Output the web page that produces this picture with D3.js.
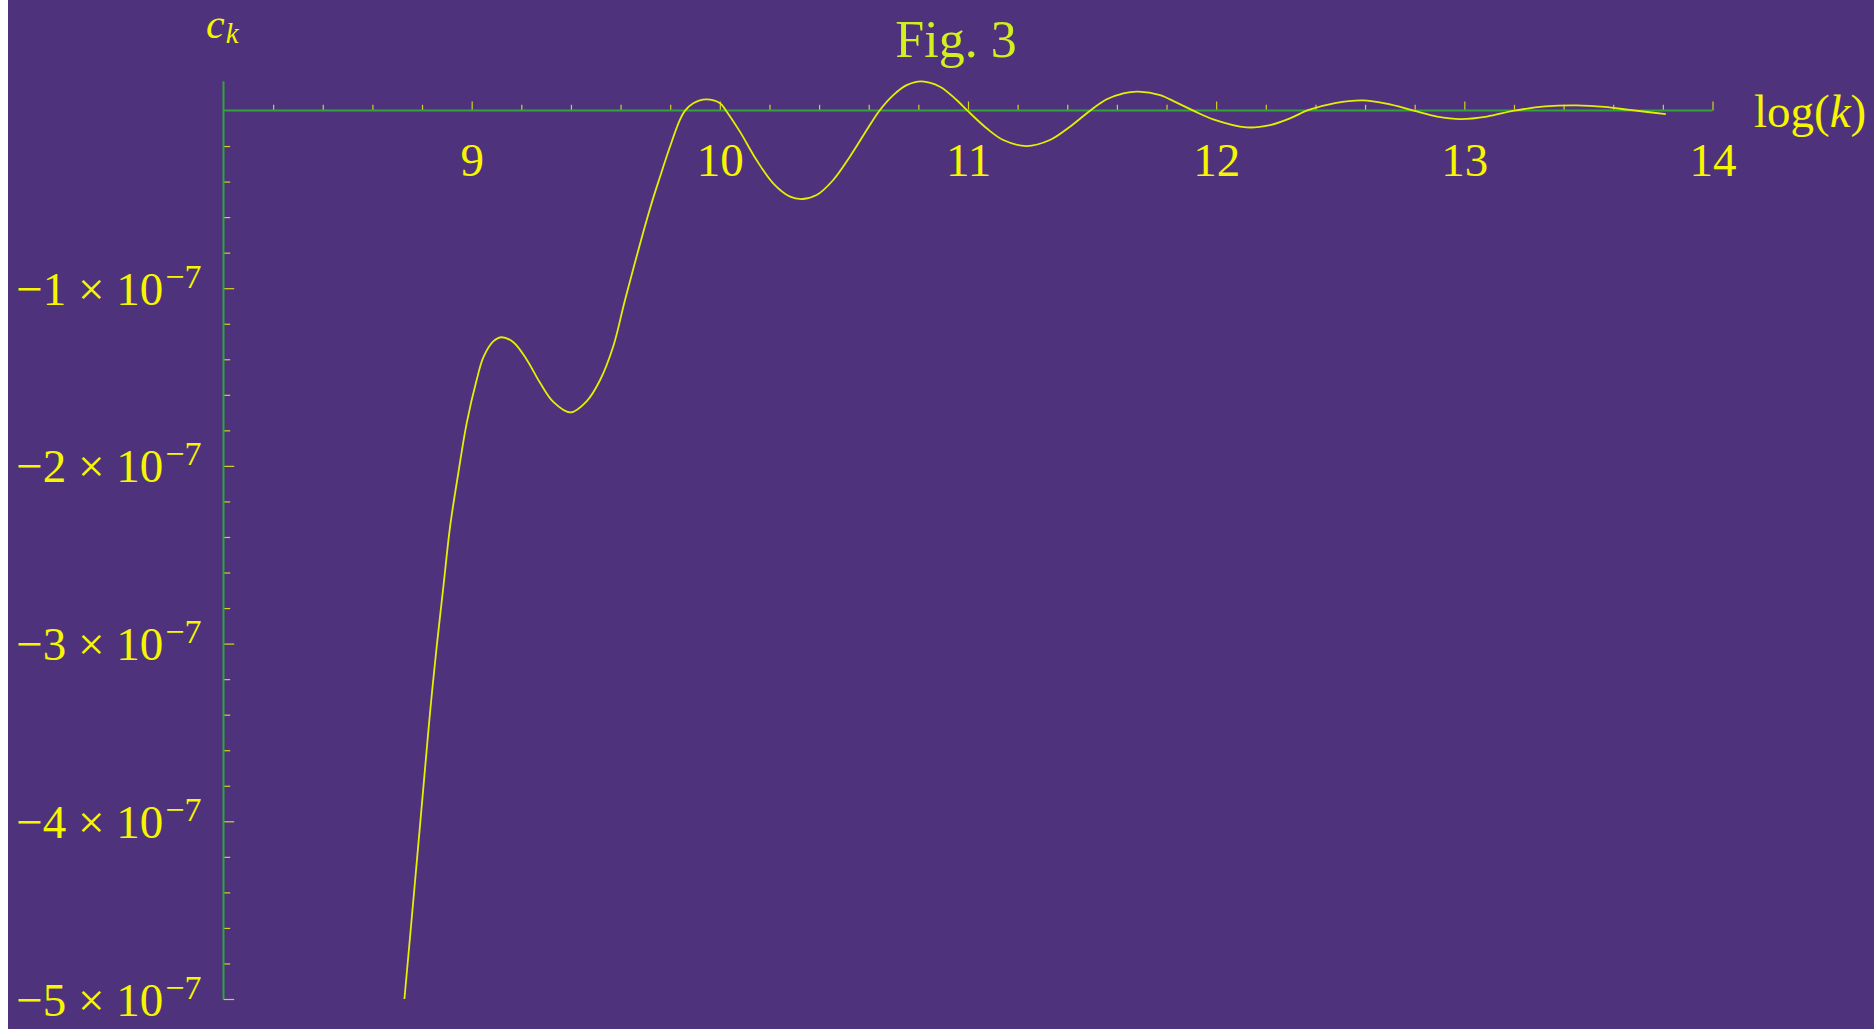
<!DOCTYPE html>
<html>
<head>
<meta charset="utf-8">
<script src="https://cdn.jsdelivr.net/npm/d3@7"></script>
<style>
html,body{margin:0;padding:0;background:#ffffff;overflow:hidden;}
svg{display:block;}
</style>
</head>
<body>
<svg id="chart" width="1874" height="1029"></svg>
<script>
// log(k) values
const logK = [8.729, 8.768, 8.808, 8.832, 8.859, 8.886, 8.913, 8.946, 8.980, 9.020,
  9.047, 9.087, 9.121, 9.168, 9.222, 9.275, 9.329, 9.398, 9.464, 9.517,
  9.571, 9.618, 9.719, 9.759, 9.799, 9.839, 9.860, 9.893, 9.944, 10.001,
  10.025, 10.081, 10.148, 10.215, 10.283, 10.334, 10.390, 10.457, 10.524, 10.592,
  10.643, 10.699, 10.753, 10.813, 10.887, 10.954, 10.998, 11.075, 11.142, 11.236,
  11.330, 11.411, 11.492, 11.559, 11.626, 11.686, 11.774, 11.841, 11.908, 11.988,
  12.123, 12.217, 12.297, 12.373, 12.479, 12.590, 12.692, 12.796, 12.890, 12.985,
  13.091, 13.201, 13.325, 13.453, 13.566, 13.667, 13.812];
// c_k values in units of 1e-7
const ck = [-5.000, -4.398, -3.768, -3.392, -3.017, -2.680, -2.342, -2.042, -1.759, -1.517,
  -1.389, -1.299, -1.276, -1.304, -1.402, -1.531, -1.640, -1.699, -1.635, -1.518,
  -1.325, -1.066, -0.550, -0.373, -0.204, -0.053, -0.001, 0.041, 0.063, 0.041,
  -0.001, -0.119, -0.279, -0.410, -0.485, -0.498, -0.476, -0.391, -0.260, -0.110,
  -0.001, 0.087, 0.143, 0.164, 0.134, 0.059, -0.001, -0.100, -0.166, -0.200,
  -0.166, -0.091, -0.001, 0.063, 0.097, 0.106, 0.087, 0.044, -0.001, -0.050,
  -0.095, -0.082, -0.044, 0.003, 0.042, 0.057, 0.037, -0.001, -0.034, -0.048,
  -0.034, -0.001, 0.023, 0.029, 0.020, 0.003, -0.020];
const xMajorTicks = [9, 10, 11, 12, 13, 14];
const yMajorTicks = [-1, -2, -3, -4, -5];
const yExponent = "−7";
const title = "Fig. 3";

const svg = d3.select("#chart");
const W = 1874, H = 1029;
const bg = "#4e327c", axisCol = "#33a23c", tickCol = "#d6d21e", textCol = "#f6f600";
const serif = "'Liberation Serif', 'Times New Roman', serif";

svg.append("rect").attr("x", 8).attr("y", 0).attr("width", W - 8).attr("height", H).attr("fill", bg);

const x = d3.scaleLinear().domain([8, 14]).range([223.5, 1712.5]);
const y = d3.scaleLinear().domain([-5, 0.165]).range([999, 110.5 - 0.165 * 177.7]);

const xMinorF = d3.range(1, 31).map(i => 8 + i * 0.2).filter(v => Math.abs(v - Math.round(v)) > 1e-6);
const yMinorF = d3.range(1, 26).map(i => -i * 0.2).filter(v => Math.abs(v - Math.round(v)) > 1e-6);

const y0 = y(0);
const x0 = x(8);

// X axis ticks (pointing up), labels below
const gx = svg.append("g").attr("transform", `translate(0,${y0})`);
gx.append("g").call(d3.axisTop(x).tickValues(xMinorF).tickSize(5.7).tickFormat(""));
gx.append("g").call(d3.axisBottom(x).tickValues(xMajorTicks).tickSizeInner(-9).tickSizeOuter(0).tickPadding(32)
  .tickFormat(d3.format("d")));
gx.selectAll(".domain").remove();
gx.selectAll(".tick line").attr("stroke", tickCol).attr("stroke-width", 1.2);
gx.selectAll(".tick text").attr("fill", textCol).attr("font-family", serif)
  .attr("font-size", 47).attr("dy", "0.71em");

// Y axis ticks (pointing right), labels left
const gy = svg.append("g").attr("transform", `translate(${x0},0)`);
gy.append("g").call(d3.axisRight(y).tickValues(yMinorF).tickSize(6.7).tickFormat(""));
gy.append("g").call(d3.axisLeft(y).tickValues(yMajorTicks).tickSizeInner(-10.7).tickSizeOuter(0).tickPadding(22)
  .tickFormat(""));
gy.selectAll(".domain").remove();
gy.selectAll(".tick line").attr("stroke", tickCol).attr("stroke-width", 1.2);
gy.selectAll(".tick").each(function(d) {
  if (!yMajorTicks.includes(d)) return;
  const t = d3.select(this).select("text");
  t.attr("fill", textCol).attr("font-family", serif).attr("font-size", 47)
    .attr("text-anchor", "end").attr("dy", null).attr("y", 16).attr("x", -22);
  t.text(null);
  t.append("tspan").text("−" + Math.abs(d) + " × 10");
  t.append("tspan").attr("font-size", 34).attr("dx", 2).attr("dy", -17).text(yExponent);
});

// Axis lines
svg.append("line").attr("x1", x(8)).attr("x2", x(14)).attr("y1", y0).attr("y2", y0)
  .attr("stroke", axisCol).attr("stroke-width", 2);
svg.append("line").attr("x1", x0).attr("x2", x0).attr("y1", y(0.165)).attr("y2", y(-5))
  .attr("stroke", axisCol).attr("stroke-width", 2);

// Curve
const data = logK.map((v, i) => [v, ck[i]]);
svg.append("path").datum(data)
  .attr("d", d3.line().x(d => x(d[0])).y(d => y(d[1])).curve(d3.curveCatmullRom.alpha(0.5)))
  .attr("fill", "none").attr("stroke", "#e4f000").attr("stroke-width", 1.8);

// Labels
svg.append("text").attr("x", 956).attr("y", 57).attr("text-anchor", "middle")
  .attr("font-family", serif).attr("font-size", 52).attr("fill", "#d2f01e").text(title);

const ckLabel = svg.append("text").attr("x", 206).attr("y", 38)
  .attr("font-family", serif).attr("fill", textCol);
ckLabel.append("tspan").attr("font-size", 42).attr("font-style", "italic").text("c");
ckLabel.append("tspan").attr("font-size", 29).attr("font-style", "italic").attr("dy", 5).attr("dx", 1).text("k");

const lk = svg.append("text").attr("x", 1754).attr("y", 127)
  .attr("font-family", serif).attr("font-size", 47).attr("fill", textCol);
lk.append("tspan").text("log(");
lk.append("tspan").attr("font-style", "italic").text("k");
lk.append("tspan").text(")");
</script>
</body>
</html>
